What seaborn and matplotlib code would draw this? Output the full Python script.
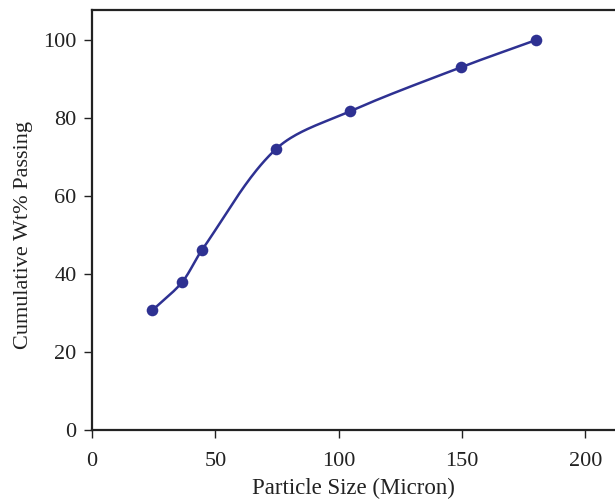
import numpy as np
import pandas as pd
import seaborn as sns
import matplotlib
matplotlib.use('Agg')
import matplotlib.pyplot as plt

# data
particle_size = [24.5, 36.5, 44.5, 74.5, 104.5, 149.5, 180.0]
cum_passing = [30.7, 37.9, 46.1, 72.0, 81.7, 93.0, 100.0]

x_ticks = [0, 50, 100, 150, 200]
y_ticks = [0, 20, 40, 60, 80, 100]

color = '#2E3192'


def smooth_curve(x, y, n=40, sx=2.47, sy=3.9):
    # Catmull-Rom style smoothing, tangents scaled by chord length (screen space)
    x = np.asarray(x, float) * sx
    y = np.asarray(y, float) * sy
    px = np.concatenate([[2 * x[0] - x[1]], x, [2 * x[-1] - x[-2]]])
    py = np.concatenate([[2 * y[0] - y[1]], y, [2 * y[-1] - y[-2]]])
    P = np.column_stack([px, py])
    d = np.linalg.norm(np.diff(P, axis=0), axis=1)
    xs, ys = [], []
    t = np.linspace(0, 1, n)
    h00 = 2 * t**3 - 3 * t**2 + 1
    h10 = t**3 - 2 * t**2 + t
    h01 = -2 * t**3 + 3 * t**2
    h11 = t**3 - t**2
    for i in range(1, len(P) - 2):
        p0, p1, p2, p3 = P[i - 1], P[i], P[i + 1], P[i + 2]
        d0, d1, d2 = d[i - 1], d[i], d[i + 1]
        m1 = (p2 - p0) * d1 / (d0 + d1)
        m2 = (p3 - p1) * d1 / (d1 + d2)
        pts = np.outer(h00, p1) + np.outer(h10, m1) + np.outer(h01, p2) + np.outer(h11, m2)
        xs.extend(pts[:, 0])
        ys.extend(pts[:, 1])
    return np.array(xs) / sx, np.array(ys) / sy


sns.set_style('white')
plt.rcParams['font.family'] = ['Liberation Serif', 'DejaVu Serif']

df = pd.DataFrame({'size': particle_size, 'passing': cum_passing})
cx, cy = smooth_curve(particle_size, cum_passing)
curve = pd.DataFrame({'size': cx, 'passing': cy})

fig = plt.figure(figsize=(6.15, 5.03), dpi=100)
ax = fig.add_axes([92 / 615, 73 / 503, 1 - 92 / 615, 420 / 503])

sns.lineplot(data=curve, x='size', y='passing', sort=False, color=color, linewidth=1.8, ax=ax)
sns.scatterplot(data=df, x='size', y='passing', color=color, s=70, edgecolor=color, linewidth=0, zorder=3, ax=ax)

ax.set_xlim(0, 212)
ax.set_ylim(0, 107.7)
ax.set_xticks(x_ticks)
ax.set_yticks(y_ticks)
ax.set_xlabel('Particle Size (Micron)', fontsize=16.5, labelpad=5)
ax.set_ylabel('Cumulative Wt% Passing', fontsize=16)
ax.yaxis.set_label_coords(-59 / 523, 0.464)
ax.tick_params(axis='both', which='major', labelsize=16, direction='out', length=6,
               width=1, color='#222222', labelcolor='#222222', left=True, bottom=True)
ax.tick_params(axis='x', pad=10)
ax.tick_params(axis='y', pad=5)
ax.xaxis.label.set_color('#222222')
ax.yaxis.label.set_color('#222222')

ax.spines['right'].set_visible(False)
for s in ('left', 'top', 'bottom'):
    ax.spines[s].set_color('#222222')
    ax.spines[s].set_linewidth(1.6)

fig.savefig('out.png', dpi=100)
